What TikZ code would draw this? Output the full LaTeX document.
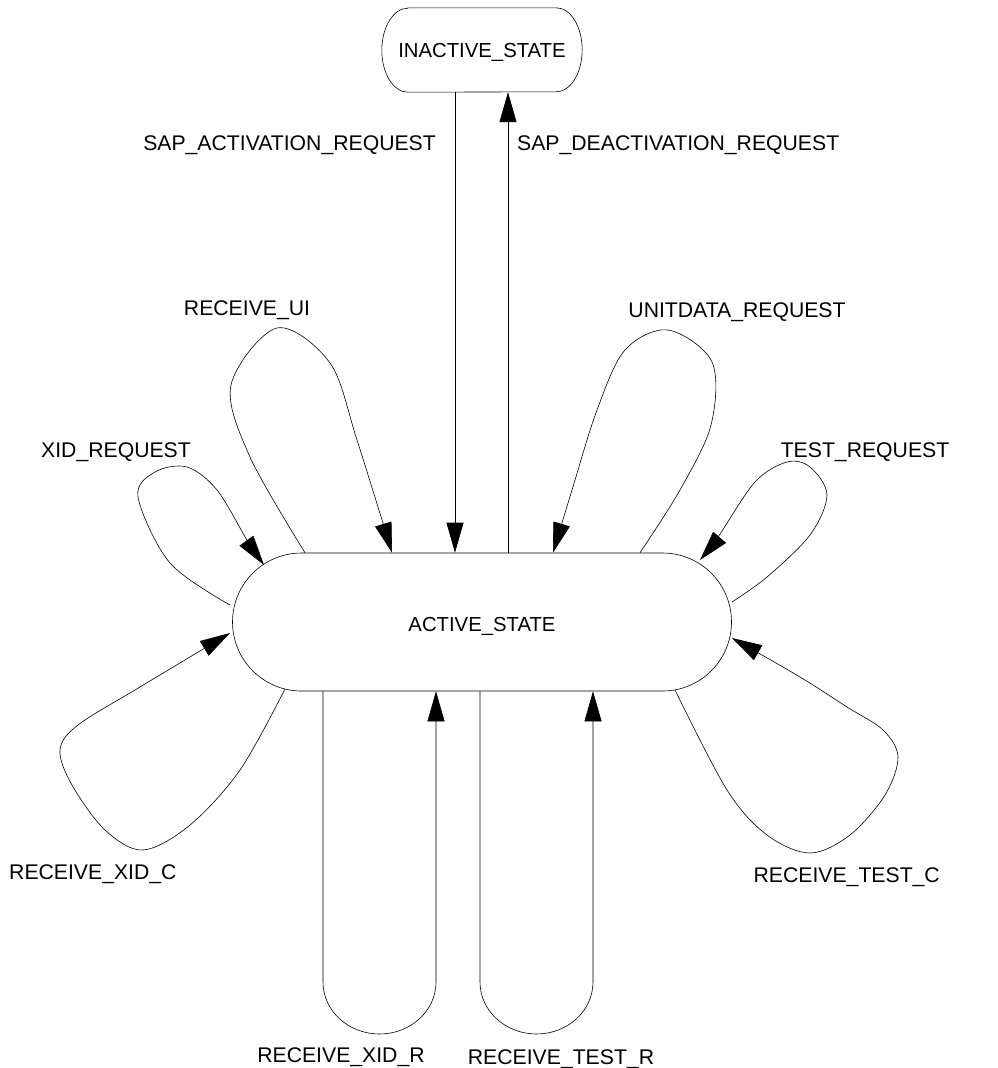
\documentclass[tikz,border=0pt]{standalone}
\usepackage{fontspec}
\setmainfont{Liberation Sans}
\usetikzlibrary{arrows.meta}
\begin{document}
\begin{tikzpicture}[x=1pt,y=-1pt,
  lbl/.style={font=\fontsize{21.2}{25}\selectfont, inner sep=0pt, text height=15.2pt, text depth=0pt},
  state/.style={inner sep=0pt, text depth=0pt, font=\fontsize{20.3}{24}\selectfont},
  conn/.style={line width=0.6pt},
  arr/.style={conn, -{Triangle[length=30pt,width=17pt]}},
  sm/.style={smooth, tension=0.55}]
\useasboundingbox (0,0) rectangle (998,1068);
% states
\node[state, minimum width=200pt, minimum height=84pt, text height=15.5pt] (inact) at (482,50) {INACTIVE\_STATE};
\draw[conn] ([xshift=26pt]inact.north west) -- ([xshift=-26pt]inact.north east)
  arc[start angle=90, end angle=-90, x radius=26pt, y radius=42pt]
  -- ([xshift=26pt]inact.south west)
  arc[start angle=270, end angle=90, x radius=26pt, y radius=42pt] -- cycle;
\node[state, draw, line width=0.6pt, minimum width=499pt, minimum height=138pt, rounded corners=69pt, text height=19.5pt] (act) at (482,622) {ACTIVE\_STATE};
% labels
\node[lbl, anchor=east] (lact) at (436,143) {SAP\_ACTIVATION\_REQUEST};
\node[lbl, anchor=west] (ldeact) at (517,143) {SAP\_DEACTIVATION\_REQUEST};
\node[lbl] (lui) at (247,308) {RECEIVE\_UI};
\node[lbl] (lun) at (737,310) {UNITDATA\_REQUEST};
\node[lbl] (lxr) at (116,450) {XID\_REQUEST};
\node[lbl] (ltr) at (865,450) {TEST\_REQUEST};
\node[lbl, anchor=west] (lxc) at (9,872) {RECEIVE\_XID\_C};
\node[lbl, anchor=east] (ltc) at (940,875) {RECEIVE\_TEST\_C};
\node[lbl] (lxR) at (341,1055) {RECEIVE\_XID\_R};
\node[lbl] (ltR) at (561,1057) {RECEIVE\_TEST\_R};
% activation / deactivation
\draw[arr] ([xshift=-27pt]inact.south) -- ([xshift=-27pt]act.north);
\draw[arr] ([xshift=26pt]act.north) -- ([xshift=26pt]inact.south);
% loop end points
\coordinate (uiS) at ([xshift=-177pt]act.north);
\coordinate (uiT) at ([xshift=-90pt]act.north);
\coordinate (unS) at ([xshift=158pt]act.north);
\coordinate (unT) at ([xshift=71pt]act.north);
\coordinate (xrS) at ([shift={(-252,-17)}]act.center);
\coordinate (xrT) at ([shift={(-218,-57)}]act.center);
\coordinate (teS) at ([shift={(250,-20)}]act.center);
\coordinate (teT) at ([shift={(218,-62)}]act.center);
\coordinate (tcS) at ([shift={(193,68)}]act.center);
\coordinate (tcT) at ([shift={(250,16)}]act.center);
\coordinate (xcS) at ([shift={(-197,67)}]act.center);
\coordinate (xcT) at ([shift={(-252,11)}]act.center);
\coordinate (xRS) at ([xshift=-159pt]act.south);
\coordinate (xRT) at ([xshift=-46pt]act.south);
\coordinate (tRS) at ([xshift=-2pt]act.south);
\coordinate (tRT) at ([xshift=111pt]act.south);
% self loops
\draw[arr] plot[sm] coordinates {(uiS) (250,457) (231,385) (277,328) (330,363) (357,440) (uiT)};
\draw[arr] plot[sm] coordinates {(unS) (680,490) (711,425) (712,362) (668,330) (625,350) (597,410) (572,490) (unT)};
\draw[arr] plot[sm] coordinates {(xrS) (170,563) (138,497) (155,472) (187,467) (217,490) (247,540) (xrT)};
\draw[arr] plot[sm] coordinates {(teS) (767,577) (810,535) (827,495) (810,467) (787,462) (755,482) (718,537) (teT)};
\draw[arr] plot[sm] coordinates {(tcS) (727,790) (767,835) (810,853) (850,835) (885,795) (898,757) (883,730) (847,707) (800,677) (tcT)};
\draw[arr] plot[sm] coordinates {(xcS) (240,770) (190,825) (143,850) (105,830) (72,785) (60,750) (78,725) (140,687) (xcT)};
\draw[arr] (xRS) -- (xRS |- 0,982) arc[start angle=180, end angle=360, x radius=56.5pt, y radius=52pt] -- (xRT);
\draw[arr] (tRS) -- (tRS |- 0,982) arc[start angle=180, end angle=360, x radius=56.5pt, y radius=52pt] -- (tRT);
\end{tikzpicture}
\end{document}
